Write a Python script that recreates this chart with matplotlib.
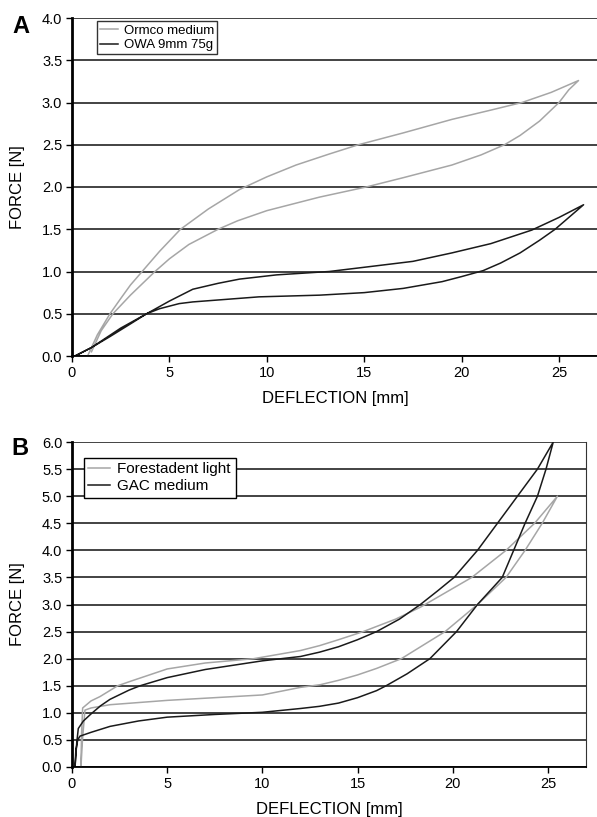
import matplotlib
matplotlib.use('Agg')
import matplotlib.pyplot as plt

plt.rcParams['font.family'] = ['Liberation Sans', 'DejaVu Sans']

GRAY = '#a6a6a6'
BLACK = '#1a1a1a'

# panel A: Ormco medium (gray) - loading then unloading
ormco_x = [0.8, 1.3, 1.95, 2.5, 3.0, 3.6, 4.5, 5.57, 7.0, 8.6, 10.0, 11.5, 13.2, 14.7, 17.0, 19.5, 21.5, 23.1, 24.6, 26.0,
           25.5, 25.0, 24.0, 23.0, 22.2, 21.0, 19.5, 17.0, 15.1, 12.7, 10.0, 8.5, 7.5, 6.0, 5.0, 4.26, 3.0, 2.1, 1.5, 1.0]
ormco_y = [0.0, 0.25, 0.5, 0.68, 0.84, 1.0, 1.24, 1.5, 1.74, 1.97, 2.12, 2.26, 2.39, 2.5, 2.64, 2.8, 2.91, 3.0, 3.12, 3.26,
           3.15, 3.0, 2.78, 2.61, 2.5, 2.38, 2.26, 2.11, 2.0, 1.88, 1.72, 1.6, 1.5, 1.32, 1.15, 1.0, 0.72, 0.5, 0.3, 0.05]

# panel A: OWA 9mm 75g (black)
owa_x = [0.15, 1.0, 1.95, 3.0, 3.83, 5.0, 6.2, 7.5, 8.6, 10.5, 13.2, 15.0, 17.5, 19.5, 21.5, 23.6, 25.0, 26.26,
         24.8, 24.0, 23.0, 22.0, 21.1, 20.0, 19.0, 17.0, 15.0, 12.7, 9.6, 6.2, 5.5, 4.5, 3.83, 2.5, 1.0, 0.15]
owa_y = [0.0, 0.1, 0.23, 0.38, 0.5, 0.65, 0.79, 0.86, 0.91, 0.96, 1.0, 1.05, 1.12, 1.22, 1.33, 1.49, 1.64, 1.79,
         1.5, 1.37, 1.22, 1.1, 1.01, 0.94, 0.88, 0.8, 0.75, 0.72, 0.70, 0.64, 0.62, 0.56, 0.5, 0.33, 0.1, 0.0]

# panel B: Forestadent light (gray)
fore_x = [0.47, 0.5, 0.56, 1.0, 1.47, 2.4, 3.05, 5.0, 7.0, 9.55, 12.0, 13.0, 14.0, 15.3, 17.0, 18.3, 21.0, 22.8, 24.3, 25.5,
          24.7, 23.8, 22.8, 21.3, 19.6, 17.3, 16.0, 15.0, 14.0, 13.05, 12.0, 10.0, 7.5, 5.0, 2.0, 1.0, 0.68, 0.55, 0.47]
fore_y = [0.0, 0.6, 1.09, 1.22, 1.30, 1.5, 1.58, 1.81, 1.92, 2.0, 2.15, 2.24, 2.35, 2.5, 2.73, 2.95, 3.5, 4.0, 4.5, 5.0,
          4.5, 4.0, 3.5, 3.0, 2.5, 2.0, 1.82, 1.7, 1.6, 1.52, 1.47, 1.33, 1.28, 1.23, 1.15, 1.09, 1.05, 0.5, 0.0]

# panel B: GAC medium (black)
gac_x = [0.16, 0.25, 0.33, 0.6, 1.0, 1.5, 2.0, 3.0, 3.58, 5.0, 7.0, 10.0, 12.0, 13.0, 14.0, 15.0, 16.0, 17.2, 18.3, 19.2,
         20.07, 21.3, 22.35, 23.4, 24.45, 25.28,
         24.9, 24.45, 23.8, 23.2, 22.6, 21.3, 20.2, 18.8, 17.6, 16.5, 16.0, 15.0, 14.0, 13.0, 12.0, 10.0, 7.5, 5.0, 3.5,
         2.0, 1.0, 0.42, 0.3, 0.2, 0.16]
gac_y = [0.0, 0.45, 0.71, 0.85, 0.98, 1.13, 1.25, 1.42, 1.5, 1.65, 1.8, 1.96, 2.04, 2.12, 2.22, 2.35, 2.5, 2.73, 3.0, 3.25,
         3.5, 4.0, 4.5, 5.0, 5.5, 6.0,
         5.5, 5.0, 4.5, 4.0, 3.5, 3.0, 2.5, 2.0, 1.72, 1.5, 1.41, 1.28, 1.18, 1.12, 1.08, 1.01, 0.97, 0.92, 0.85,
         0.75, 0.64, 0.57, 0.5, 0.3, 0.0]

W, H = 597, 817
fig = plt.figure(figsize=(W / 100, H / 100), dpi=100)
axA = fig.add_axes([72 / W, 1 - 356 / H, 526 / W, 338 / H])
axB = fig.add_axes([72 / W, 1 - 767 / H, 514 / W, 325 / H])


def style(ax, ymax, right_spine):
    ax.set_xlim(0, 27)
    ax.set_ylim(0, ymax)
    ax.set_xticks([0, 5, 10, 15, 20, 25])
    ax.set_yticks([i * 0.5 for i in range(int(ymax * 2) + 1)])
    ax.yaxis.set_major_formatter(matplotlib.ticker.FormatStrFormatter('%.1f'))
    ax.grid(axis='y', color='#222222', lw=1.2)
    ax.set_axisbelow(True)
    ax.spines['top'].set_visible(False)
    ax.spines['right'].set_visible(right_spine)
    ax.spines['right'].set_color('#333333')
    ax.spines['left'].set_linewidth(2.0)
    ax.spines['bottom'].set_linewidth(1.3)
    ax.tick_params(direction='out', length=4, width=1.0, labelsize=10.5, pad=3)
    ax.set_xlabel('DEFLECTION [mm]', fontsize=12, labelpad=8)
    ax.set_ylabel('FORCE [N]', fontsize=12)
    # right edge of the rotated label at about 25 px from the figure edge
    ax.yaxis.set_label_coords(-47 / (ax.get_position().width * W), 0.5)


style(axA, 4.0, False)
axA.plot(ormco_x, ormco_y, color=GRAY, lw=1.1, label='Ormco medium')
axA.plot(owa_x, owa_y, color=BLACK, lw=1.1, label='OWA 9mm 75g')
legA = axA.legend(loc='upper left', bbox_to_anchor=(0.047, 0.99), fontsize=9.5, frameon=True, fancybox=False,
                  edgecolor='black', handlelength=1.4, handletextpad=0.4, borderpad=0.25, labelspacing=0.15,
                  borderaxespad=0)
legA.get_frame().set_linewidth(1.0)

style(axB, 6.0, True)
axB.plot(fore_x, fore_y, color=GRAY, lw=1.1, label='Forestadent light')
axB.plot(gac_x, gac_y, color=BLACK, lw=1.1, label='GAC medium')
legB = axB.legend(loc='upper left', bbox_to_anchor=(0.023, 0.952), fontsize=11, frameon=True, fancybox=False,
                  edgecolor='black', framealpha=1, handlelength=1.4, handletextpad=0.5, borderpad=0.3,
                  labelspacing=0.2, borderaxespad=0)
legB.get_frame().set_linewidth(1.0)

fig.text(12 / W, 1 - 33 / H, 'A', fontsize=17, fontweight='bold')
fig.text(11 / W, 1 - 455 / H, 'B', fontsize=17, fontweight='bold')

fig.savefig('out.png', dpi=100)
